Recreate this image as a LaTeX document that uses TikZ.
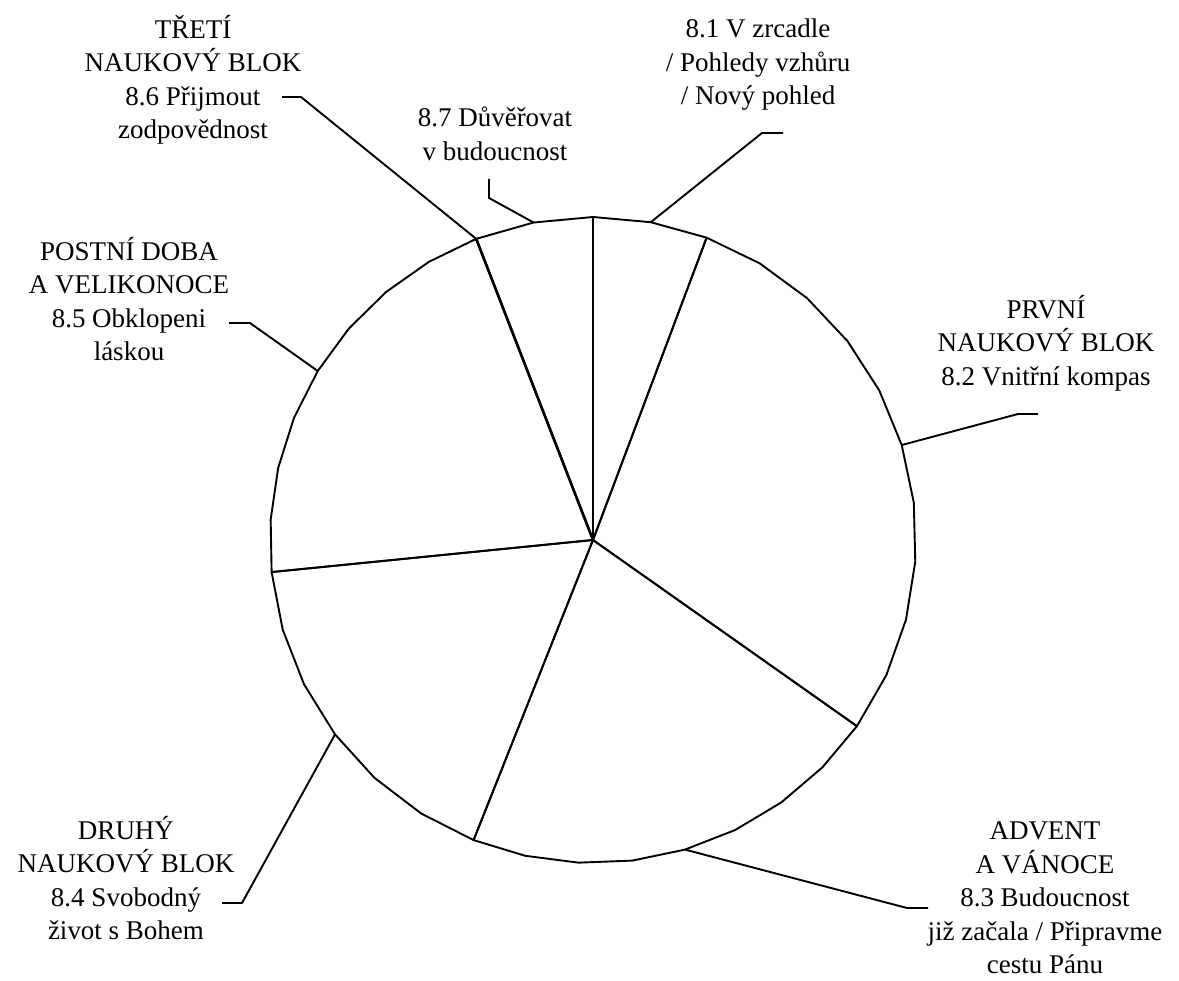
\documentclass[tikz,border=0pt]{standalone}
\usepackage{fontspec}
\setmainfont{Liberation Serif}

\begin{document}
\begin{tikzpicture}[x=1pt,y=-1pt,
  wedge/.style={draw=black, line width=1.9pt, line join=round},
  lbl/.style={align=center, font=\fontsize{27}{33.5}\selectfont, inner sep=0pt},
  lead/.style={draw=black, line width=1.9pt, line join=round}
]
  \useasboundingbox (0,0) rectangle (1179,981);
  \coordinate (ctr) at (593,540);

  \begin{scope}[shift={(593,540)}]
    % slices: start angle / end angle / number of facets (y axis points down, so angles are negated)
    \foreach \s/\e/\n in {90/69.4/2, 69.4/-35.2/10, -35.2/-111.7/8, -111.7/-174.3/6, -174.3/-248.8/8, -248.8/-270/2}
      \draw[wedge] (0,0) -- ({-(\s)}:323) \foreach \k in {1,...,\n} { -- ({-(\s+(\e-(\s))*\k/\n)}:323) } -- cycle;
    \draw[wedge, line width=2.6pt] (0,0) -- (248.8:323);

    \coordinate (p81) at (-79.7:323);
    \coordinate (p82) at (-17.1:323);
    \coordinate (p83) at (73.45:323);
    \coordinate (p84) at (143:323);
    \coordinate (p85) at (-148.45:323);
    \coordinate (p86) at (-111.2:323);
    \coordinate (p87) at (-100.6:323);
  \end{scope}

  \node[lbl] (t81) at (758,65)   {8.1 V zrcadle\\/ Pohledy vzhůru\\/ Nový pohled};
  \node[lbl] (t82) at (1046,343) {PRVNÍ\\NAUKOVÝ BLOK\\8.2 Vnitřní kompas};
  \node[lbl] (t83) at (1045,898) {ADVENT\\A VÁNOCE\\8.3 Budoucnost\\již začala / Připravme\\cestu Pánu};
  \node[lbl] (t84) at (126,878)  {DRUHÝ\\NAUKOVÝ BLOK\\8.4 Svobodný\\život s Bohem};
  \node[lbl] (t85) at (129,299)  {POSTNÍ DOBA\\A VELIKONOCE\\8.5 Obklopeni\\láskou};
  \node[lbl] (t86) at (193,80)   {TŘETÍ\\NAUKOVÝ BLOK\\8.6 Přijmout\\zodpovědnost};
  \node[lbl] (t87) at (495,134)  {8.7 Důvěřovat\\v budoucnost};

  % leaders
  \coordinate (e81) at (783,133);
  \coordinate (e82) at (1038,414);
  \coordinate (e83) at (928,908);
  \coordinate (e84) at (222,903);
  \coordinate (e85) at (229,323);
  \coordinate (e86) at (282,97);
  \coordinate (e87) at (489,179);
  \draw[lead] (p81) -- (762,133) -- (e81);
  \draw[lead] (p82) -- (1018,414) -- (e82);
  \draw[lead] (p83) -- (907,908) -- (e83);
  \draw[lead] (p84) -- (242,903) -- (e84);
  \draw[lead] (p85) -- (250,323) -- (e85);
  \draw[lead] (p86) -- (301,97) -- (e86);
  \draw[lead] (p87) -- (489,198) -- (e87);
\end{tikzpicture}
\end{document}
